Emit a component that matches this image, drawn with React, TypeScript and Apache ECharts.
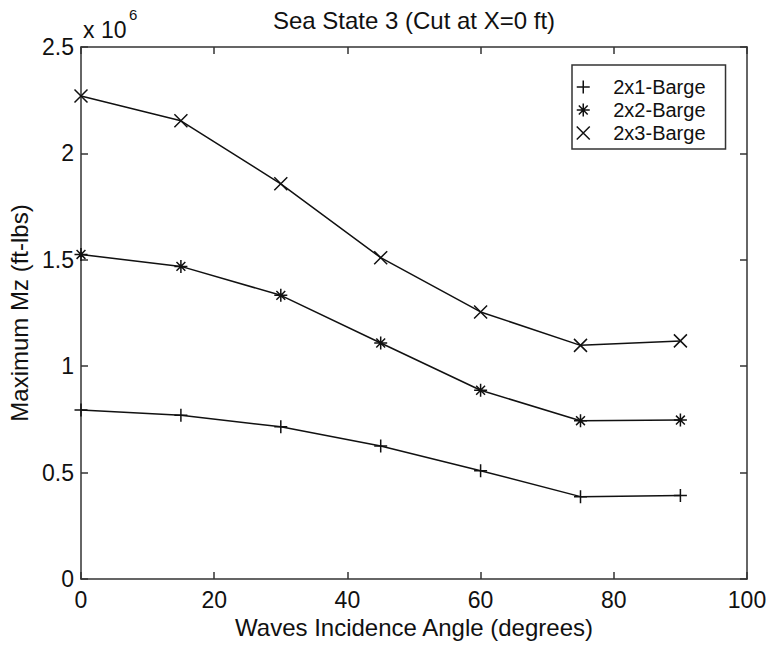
import React, { useEffect, useRef } from "react";
import * as echarts from "echarts";

const angles = [0, 15, 30, 45, 60, 75, 90];
const barge2x1 = [794000, 770000, 715000, 625000, 509000, 387000, 392000];
const barge2x2 = [1525000, 1469000, 1333000, 1109000, 887000, 744000, 747000];
const barge2x3 = [2270000, 2153000, 1857000, 1510000, 1255000, 1098000, 1119000];
const seriesNames = ["2x1-Barge", "2x2-Barge", "2x3-Barge"];
const xTicks = { min: 0, max: 100, interval: 20 };
const yTicks = { min: 0, max: 2500000, interval: 500000 };

const PLUS = "path://M5,0L5,10M0,5L10,5";
const STAR = "path://M5,0L5,10M0,5L10,5M1.6,1.6L8.4,8.4M8.4,1.6L1.6,8.4";
const CROSS = "path://M0,0L10,10M10,0L0,10";

const FONT = "'Liberation Sans', Arial, Helvetica, sans-serif";
const INK = "#111";
const AXIS = "#333";

export default function App() {
  const ref = useRef<HTMLDivElement>(null);
  useEffect(() => {
    document.body.style.margin = "0";
    const chart = echarts.init(ref.current!, null, { renderer: "svg" });
    const pair = (ys: number[]) => angles.map((a, i) => [a, ys[i]]);
    const mkSeries = (name: string, ys: number[], sym: string) => ({
      name,
      type: "line",
      data: pair(ys),
      symbol: sym,
      symbolSize: 13,
      xAxisIndex: 0,
      yAxisIndex: 0,
      lineStyle: { color: INK, width: 1.5 },
      itemStyle: { color: "transparent", borderColor: INK, borderWidth: 1.5 },
      emphasis: { disabled: true },
    });
    const axisCommon = {
      axisLine: { show: true, onZero: false, lineStyle: { color: AXIS, width: 1.5 } },
      axisTick: { show: true, inside: true, length: 7, lineStyle: { color: AXIS, width: 1.5 } },
      splitLine: { show: false },
    };
    chart.setOption({
      animation: false,
      textStyle: { fontFamily: FONT, color: INK },
      title: {
        text: "Sea State 3 (Cut at X=0 ft)",
        left: 414,
        textAlign: "center",
        top: 8,
        padding: 0,
        textStyle: { fontSize: 24, fontWeight: "normal", color: INK, fontFamily: FONT },
      },
      grid: { left: 81, right: 23, top: 47, bottom: 71, outerBoundsMode: "none" },
      legend: {
        orient: "vertical",
        left: 572,
        top: 65,
        padding: [12, 20, 6, 4],
        itemGap: 3,
        itemWidth: 26,
        itemHeight: 13,
        backgroundColor: "#fff",
        borderColor: AXIS,
        borderWidth: 1.5,
        borderRadius: 0,
        textStyle: { fontSize: 20, lineHeight: 20, color: INK, fontFamily: FONT, padding: [0, 0, 0, 12] },
        itemStyle: { color: "transparent", borderColor: INK, borderWidth: 1.5 },
        data: [
          { name: seriesNames[0], icon: PLUS },
          { name: seriesNames[1], icon: STAR },
          { name: seriesNames[2], icon: CROSS },
        ],
      },
      xAxis: [
        {
          type: "value",
          position: "bottom",
          ...xTicks,
          ...axisCommon,
          name: "Waves Incidence Angle (degrees)",
          nameLocation: "middle",
          nameGap: 28,
          nameTextStyle: { fontSize: 24, color: INK, fontFamily: FONT },
          axisLabel: { fontSize: 23, color: INK, margin: 9, fontFamily: FONT },
        },
        {
          type: "value",
          position: "top",
          ...xTicks,
          ...axisCommon,
          axisLabel: { show: false },
        },
      ],
      yAxis: [
        {
          type: "value",
          position: "left",
          ...yTicks,
          ...axisCommon,
          name: "Maximum Mz (ft-lbs)",
          nameLocation: "middle",
          nameGap: 41,
          nameRotate: 90,
          nameTextStyle: { fontSize: 24, color: INK, fontFamily: FONT },
          axisLabel: {
            fontSize: 23,
            color: INK,
            margin: 7,
            fontFamily: FONT,
            formatter: (v: number) => String(v / 1000000),
          },
        },
        {
          type: "value",
          position: "right",
          ...yTicks,
          ...axisCommon,
          axisLabel: { show: false },
        },
      ],
      graphic: [
        {
          type: "text",
          left: 83,
          top: 18,
          style: { text: "x 10", fontSize: 23, fill: INK, fontFamily: FONT },
        },
        {
          type: "text",
          left: 129,
          top: 7,
          style: { text: "6", fontSize: 15, fill: INK, fontFamily: FONT },
        },
      ],
      series: [
        mkSeries(seriesNames[0], barge2x1, PLUS),
        mkSeries(seriesNames[1], barge2x2, STAR),
        mkSeries(seriesNames[2], barge2x3, CROSS),
      ],
    });
    return () => chart.dispose();
  }, []);
  return <div ref={ref} style={{ width: 770, height: 650 }} />;
}
